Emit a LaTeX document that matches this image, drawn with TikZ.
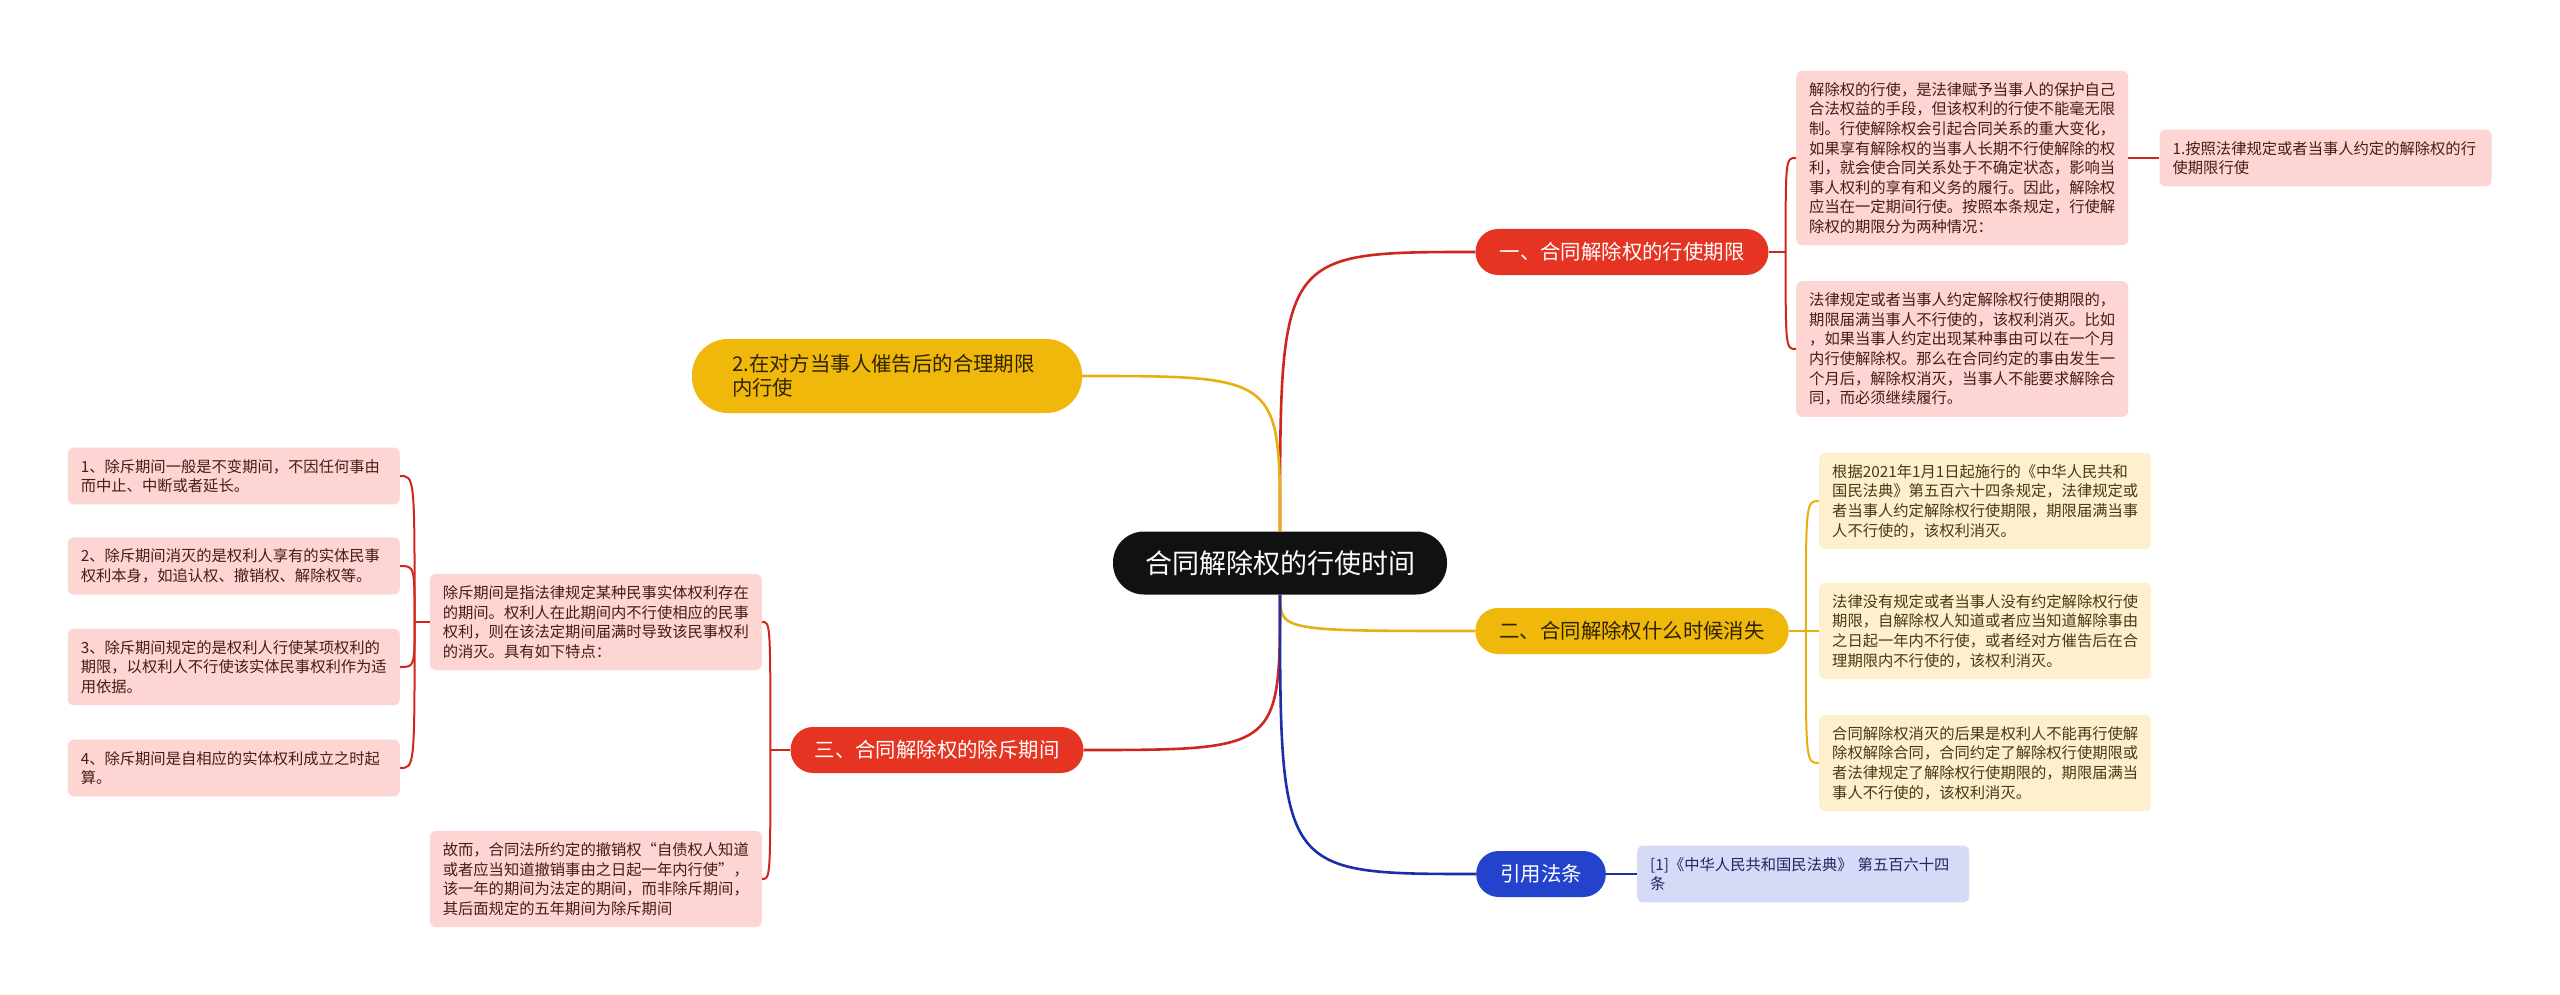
\documentclass[tikz,border=0pt]{standalone}
\usepackage{fontspec}
\setmainfont{Noto Sans CJK SC}
\usepackage{xcolor}
\usepackage{tikz}
\usetikzlibrary{
    positioning,
    calc
}
\definecolor{rootfill}{HTML}{111111}
\definecolor{branchred}{HTML}{E63422}
\definecolor{branchyellow}{HTML}{EFB80B}
\definecolor{branchblue}{HTML}{2443CC}
\definecolor{linered}{HTML}{D0261C}
\definecolor{lineyellow}{HTML}{E6B00F}
\definecolor{lineblue}{HTML}{1B2FA6}
\definecolor{leafpink}{HTML}{FDD6D3}
\definecolor{leafyellow}{HTML}{FCF0CF}
\definecolor{leafblue}{HTML}{D5DAF6}
\definecolor{pinktext}{HTML}{4D1A14}
\definecolor{yellowtext}{HTML}{4A3A10}
\definecolor{darkyellowtext}{HTML}{2E2300}
\definecolor{bluetext}{HTML}{1E2766}
\newcommand{\mapleaffont}{\fontsize{15.3pt}{19.6pt}\selectfont}
\newcommand{\mapbranchfont}{\fontsize{20.4pt}{24pt}\selectfont}
\newcommand{\maprootfont}{\fontsize{27pt}{32pt}\selectfont}
\tikzset{
    rootbox/.style={
        fill=rootfill,
        text=white,
        rounded corners=31pt,
        minimum height=63pt,
        inner xsep=32pt,
        inner ysep=0pt,
        font=\maprootfont
    }
}
\tikzset{
    branchbox/.style={
        rounded corners=22.5pt,
        minimum height=46pt,
        inner xsep=24pt,
        inner ysep=0pt,
        font=\mapbranchfont
    }
}
\tikzset{
    askbox/.style={
        fill=branchyellow,
        text=darkyellowtext,
        rounded corners=36pt,
        minimum height=74pt,
        text width=310pt,
        inner xsep=40pt,
        inner ysep=0pt,
        align=left,
        font=\mapbranchfont
    }
}
\tikzset{
    leafbox/.style={
        rounded corners=6pt,
        inner xsep=13pt,
        inner ysep=11.5pt,
        text width=306pt,
        align=left,
        font=\mapleaffont
    }
}
\tikzset{
    trunk/.style={
        draw=#1,
        line width=2.6pt
    },
    twig/.style={
        draw=#1,
        line width=2pt
    }
}

\begin{document}
\begin{tikzpicture}[
    x=1pt, y=-1pt
]

\fill[white] (0,0) rectangle (2560,995);
\useasboundingbox (0,0) rectangle (2560,995);

% =========================================================
% Root and branches
% =========================================================

\node[rootbox] (root) at (1280,563) {合同解除权的行使时间};

\node[branchbox, fill=branchred, text=white] (limit) at (1622,252) {一、合同解除权的行使期限};
\node[branchbox, fill=branchyellow, text=darkyellowtext] (vanish) at (1632,631) {二、合同解除权什么时候消失};
\node[branchbox, fill=branchblue, text=white] (cite) at (1541,874) {引用法条};
\node[branchbox, fill=branchred, text=white] (bar) at (937,750) {三、合同解除权的除斥期间};
\node[askbox] (notice) at (887,376) {2.在对方当事人催告后的合理期限\\内行使};


% =========================================================
% 一、行使期限
% =========================================================

\node[leafbox, fill=leafpink, text=pinktext, anchor=west] (exercise) at (1796,158) {
解除权的行使，是法律赋予当事人的保护自己\\
合法权益的手段，但该权利的行使不能毫无限\\
制。行使解除权会引起合同关系的重大变化，\\
如果享有解除权的当事人长期不行使解除的权\\
利，就会使合同关系处于不确定状态，影响当\\
事人权利的享有和义务的履行。因此，解除权\\
应当在一定期间行使。按照本条规定，行使解\\
除权的期限分为两种情况：};

\node[leafbox, fill=leafpink, text=pinktext, right=31pt of exercise] (byrule) {
1.按照法律规定或者当事人约定的解除权的行\\
使期限行使};

\node[leafbox, fill=leafpink, text=pinktext, anchor=west] (expiry) at (1796,349) {
法律规定或者当事人约定解除权行使期限的，\\
期限届满当事人不行使的，该权利消灭。比如\\
，如果当事人约定出现某种事由可以在一个月\\
内行使解除权。那么在合同约定的事由发生一\\
个月后，解除权消灭，当事人不能要求解除合\\
同，而必须继续履行。};


% =========================================================
% 二、何时消失
% =========================================================

\node[leafbox, fill=leafyellow, text=yellowtext, anchor=west] (code) at (1819,501) {
根据2021年1月1日起施行的《中华人民共和\\
国民法典》第五百六十四条规定，法律规定或\\
者当事人约定解除权行使期限，期限届满当事\\
人不行使的，该权利消灭。};

\node[leafbox, fill=leafyellow, text=yellowtext, anchor=west] (nolimit) at (1819,631) {
法律没有规定或者当事人没有约定解除权行使\\
期限，自解除权人知道或者应当知道解除事由\\
之日起一年内不行使，或者经对方催告后在合\\
理期限内不行使的，该权利消灭。};

\node[leafbox, fill=leafyellow, text=yellowtext, anchor=west] (result) at (1819,763) {
合同解除权消灭的后果是权利人不能再行使解\\
除权解除合同，合同约定了解除权行使期限或\\
者法律规定了解除权行使期限的，期限届满当\\
事人不行使的，该权利消灭。};


% =========================================================
% 引用法条
% =========================================================

\node[leafbox, fill=leafblue, text=bluetext, right=31pt of cite] (article) {
[1]《中华人民共和国民法典》 第五百六十四\\
条};


% =========================================================
% 三、除斥期间
% =========================================================

\node[leafbox, fill=leafpink, text=pinktext, anchor=east] (define) at (762,622) {
除斥期间是指法律规定某种民事实体权利存在\\
的期间。权利人在此期间内不行使相应的民事\\
权利，则在该法定期间届满时导致该民事权利\\
的消灭。具有如下特点：};

\node[leafbox, fill=leafpink, text=pinktext, anchor=east] (hence) at (762,879) {
故而，合同法所约定的撤销权“自债权人知道\\
或者应当知道撤销事由之日起一年内行使”，\\
该一年的期间为法定的期间，而非除斥期间，\\
其后面规定的五年期间为除斥期间};

\node[leafbox, fill=leafpink, text=pinktext, anchor=east] (fixed) at (400,476) {
1、除斥期间一般是不变期间，不因任何事由\\
而中止、中断或者延长。};

\node[leafbox, fill=leafpink, text=pinktext, anchor=east] (substance) at (400,566) {
2、除斥期间消灭的是权利人享有的实体民事\\
权利本身，如追认权、撤销权、解除权等。};

\node[leafbox, fill=leafpink, text=pinktext, anchor=east] (basis) at (400,667) {
3、除斥期间规定的是权利人行使某项权利的\\
期限，以权利人不行使该实体民事权利作为适\\
用依据。};

\node[leafbox, fill=leafpink, text=pinktext, anchor=east] (start) at (400,768) {
4、除斥期间是自相应的实体权利成立之时起\\
算。};


% =========================================================
% Connectors
% =========================================================

\draw[trunk=linered] (root.north) .. controls (root.north |- limit.west) .. (limit.west);
\draw[trunk=lineyellow] (root.north) .. controls (root.north |- notice.east) .. (notice.east);
\draw[trunk=lineyellow] (root.south) .. controls (root.south |- vanish.west) .. (vanish.west);
\draw[trunk=linered] (root.south) .. controls (root.south |- bar.east) .. (bar.east);
\draw[trunk=lineblue] (root.south) .. controls (root.south |- cite.west) .. (cite.west);

\coordinate[right=17pt of limit.east] (limitfork);
\coordinate[right=17pt of vanish.east] (vanishfork);
\coordinate[left=20pt of bar.west] (barfork);
\coordinate[left=15pt of define.west] (definefork);

\draw[twig=linered] (limit.east) -- (limitfork);
\draw[twig=linered] (limitfork) .. controls (limitfork |- exercise.west) .. (exercise.west);
\draw[twig=linered] (limitfork) .. controls (limitfork |- expiry.west) .. (expiry.west);
\draw[twig=linered] (exercise.east) -- (byrule.west);

\draw[twig=lineyellow] (vanish.east) -- (vanishfork);
\draw[twig=lineyellow] (vanishfork) .. controls (vanishfork |- code.west) .. (code.west);
\draw[twig=lineyellow] (vanishfork) -- (nolimit.west);
\draw[twig=lineyellow] (vanishfork) .. controls (vanishfork |- result.west) .. (result.west);

\draw[twig=lineblue] (cite.east) -- (article.west);

\draw[twig=linered] (bar.west) -- (barfork);
\draw[twig=linered] (barfork) .. controls (barfork |- define.east) .. (define.east);
\draw[twig=linered] (barfork) .. controls (barfork |- hence.east) .. (hence.east);

\draw[twig=linered] (define.west) -- (definefork);
\draw[twig=linered] (definefork) .. controls (definefork |- fixed.east) .. (fixed.east);
\draw[twig=linered] (definefork) .. controls (definefork |- substance.east) .. (substance.east);
\draw[twig=linered] (definefork) .. controls (definefork |- basis.east) .. (basis.east);
\draw[twig=linered] (definefork) .. controls (definefork |- start.east) .. (start.east);

\end{tikzpicture}
\end{document}
